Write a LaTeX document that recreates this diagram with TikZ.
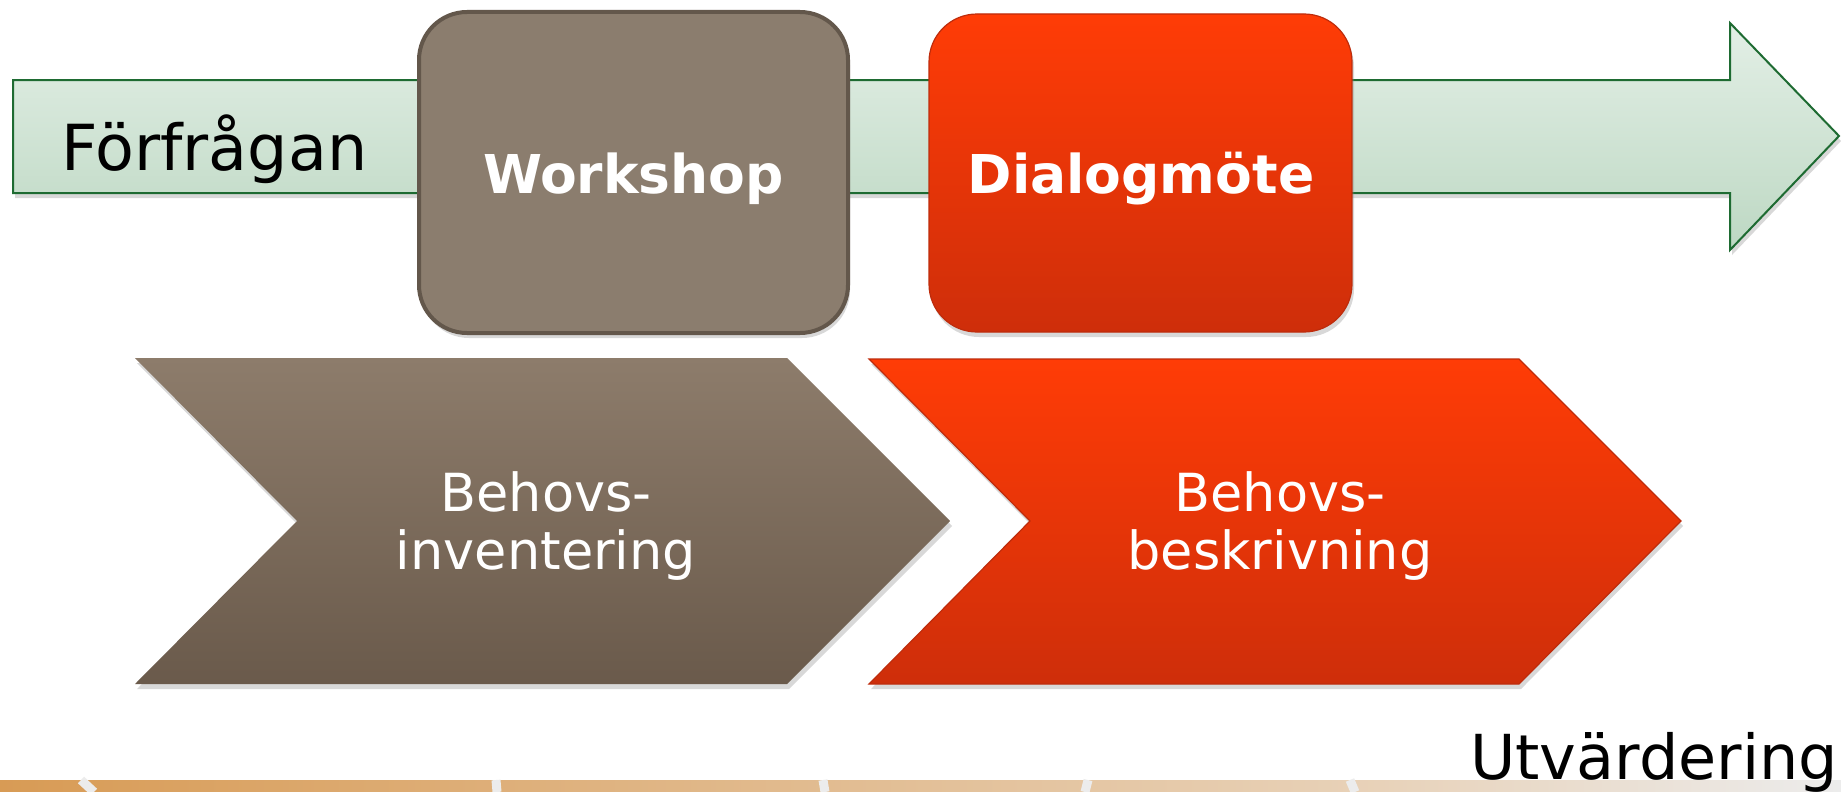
\documentclass[tikz,border=0pt]{standalone}
\usepackage{fontspec}
\setmainfont{DejaVu Sans}
\usetikzlibrary{shadows}
\definecolor{grTop}{RGB}{227,239,230}
\definecolor{grBot}{RGB}{189,216,195}
\definecolor{grLine}{RGB}{30,107,50}
\definecolor{wsFill}{RGB}{139,125,110}
\definecolor{wsLine}{RGB}{99,87,75}
\definecolor{chTop}{RGB}{141,124,107}
\definecolor{chBot}{RGB}{106,90,75}
\definecolor{rdTop}{RGB}{255,60,6}
\definecolor{rdMid}{RGB}{252,59,6}
\definecolor{rdBot}{RGB}{206,46,10}
\definecolor{rdLine}{RGB}{190,44,12}
\definecolor{stL}{RGB}{216,155,85}
\definecolor{stM}{RGB}{232,210,185}
\definecolor{stR}{RGB}{236,236,236}
\definecolor{sepC}{RGB}{236,236,236}
\tikzset{
  softshadow/.style={drop shadow={opacity=0.3, shadow xshift=2pt, shadow yshift=-5pt}},
  greenarrow/.style={draw=grLine, line width=2pt, top color=grTop, bottom color=grBot, softshadow},
  brownbox/.style={draw=wsLine, line width=4pt, fill=wsFill, rounded corners=48pt, softshadow},
  redbox/.style={draw=rdLine, line width=1.2pt, top color=rdTop, middle color=rdMid, bottom color=rdBot, rounded corners=48pt, softshadow},
  brownchev/.style={top color=chTop, bottom color=chBot, softshadow},
  redchev/.style={draw=rdLine, line width=1.2pt, top color=rdTop, middle color=rdMid, bottom color=rdBot, softshadow},
  sepline/.style={draw=sepC, line width=9pt},
  boldlabel/.style={anchor=base, inner sep=0pt, text=white, font=\bfseries\fontsize{53.5}{60}\selectfont},
  chevlabel/.style={anchor=base, inner sep=0pt, text=white, align=center, font=\fontsize{52.5}{58}\selectfont},
  blacklabel/.style={anchor=base west, inner sep=0pt, text=black}
}
\begin{document}
\begin{tikzpicture}[x=1pt,y=-1pt]
\useasboundingbox (0,0) rectangle (1841,792);
\fill[white] (0,0) rectangle (1841,792);
% bottom strip
\shade[left color=stL, right color=stM] (0,780) rectangle (1380,792);
\shade[left color=stM, right color=stR] (1380,780) rectangle (1841,792);
\coordinate (s1a) at (81,780); \coordinate (s1b) at (94,792);
\coordinate (s2a) at (496,780); \coordinate (s2b) at (497,792);
\coordinate (s3a) at (823,780); \coordinate (s3b) at (825,792);
\coordinate (s4a) at (1088,780); \coordinate (s4b) at (1085,792);
\coordinate (s5a) at (1350,780); \coordinate (s5b) at (1355,792);
\draw[sepline] (s1a) -- (s1b);
\draw[sepline] (s2a) -- (s2b);
\draw[sepline] (s3a) -- (s3b);
\draw[sepline] (s4a) -- (s4b);
\draw[sepline] (s5a) -- (s5b);
% green arrow
\path[greenarrow] (13,80) -- (1730,80) -- (1730,23) -- (1839,136) -- (1730,250) -- (1730,193) -- (13,193) -- cycle;
\node[blacklabel, font=\fontsize{63.5}{70}\selectfont] (forf) at (61,170) {Förfrågan};
% top boxes
\path[brownbox] (419,12) rectangle (848,333);
\node[boldlabel] (ws) at (633.5,193) {Workshop};
\path[redbox] (929,14) rectangle (1352,332);
\node[boldlabel] (dm) at (1141,193) {Dialogmöte};
% chevrons
\path[brownchev] (135,358) -- (787,358) -- (950,521) -- (787,684) -- (135,684) -- (297,521) -- cycle;
\node[chevlabel] (bi) at (546,569) {Behovs-\\inventering};
\path[redchev] (869,359) -- (1519,359) -- (1681,521) -- (1519,684) -- (869,684) -- (1030,521) -- cycle;
\node[chevlabel] (bb) at (1280,569) {Behovs-\\beskrivning};
% bottom label
\node[blacklabel, font=\fontsize{62}{68}\selectfont] (utv) at (1470,779) {Utvärdering};
\end{tikzpicture}
\end{document}
